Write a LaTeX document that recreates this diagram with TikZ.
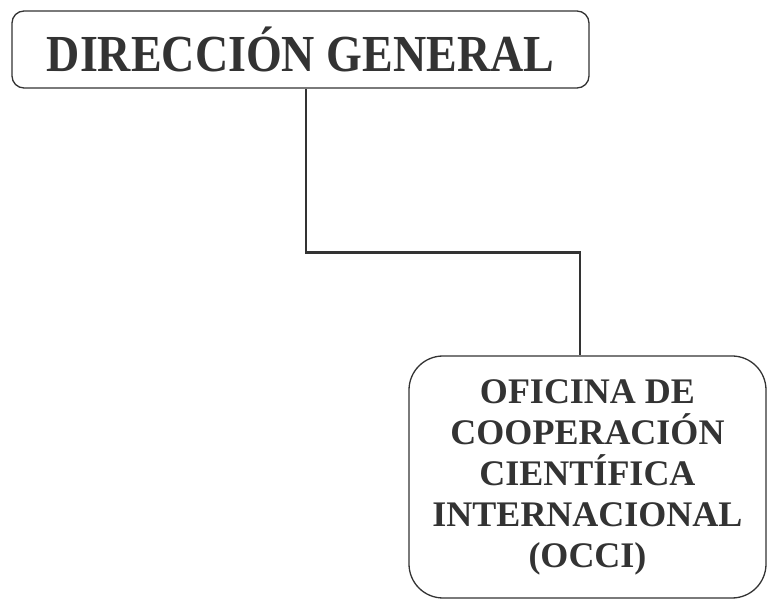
\documentclass[tikz,border=0pt]{standalone}
\usepackage{fontspec}
\setmainfont{Liberation Serif}
\usetikzlibrary{positioning}

\definecolor{tinta}{HTML}{333333}

\begin{document}
\begin{tikzpicture}[x=1pt, y=-1pt,
        caja/.style={rectangle, draw=tinta, line width=1.3pt, align=center, text=tinta, font=\bfseries, inner sep=0pt},
        enlace/.style={draw=tinta, line width=2.6pt},
    ]
        \useasboundingbox (0,0) rectangle (769,601);

        % Dirección general
        \node[caja, rounded corners=12pt, minimum width=577pt, minimum height=77pt, font=\bfseries\fontsize{46}{50}\selectfont] (dg) at (300.5,49.5) {\scalebox{1}[1.13]{DIRECCIÓN GENERAL}};

        % Oficina (OCCI)
        \node[caja, rounded corners=34pt, minimum width=357pt, minimum height=242pt, font=\bfseries\fontsize{36}{41}\selectfont] (occi) at (587.5,477) {OFICINA DE\\COOPERACIÓN\\CIENTÍFICA\\INTERNACIONAL\\(OCCI)};

        \draw[enlace] ([xshift=5.5pt]dg.south) -- ++(0,164) -| ([xshift=-7.5pt]occi.north);

    \end{tikzpicture}
\end{document}
